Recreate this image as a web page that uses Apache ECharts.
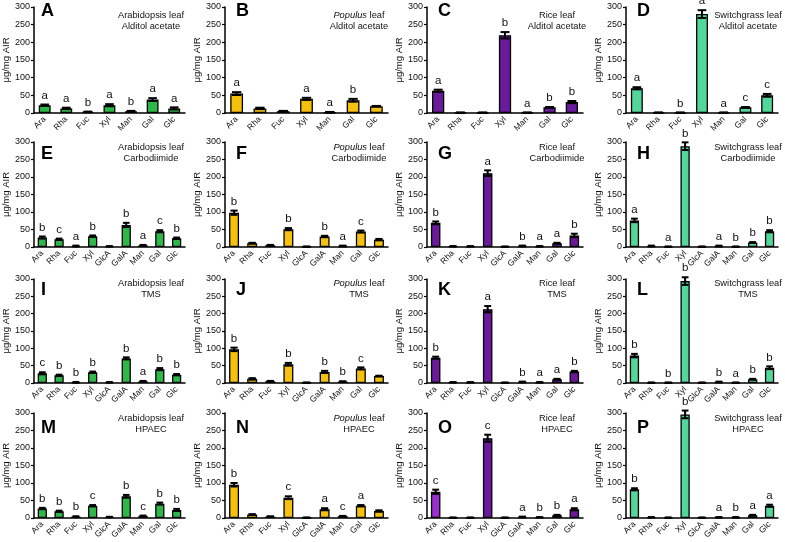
<!DOCTYPE html>
<html><head><meta charset="utf-8">
<script src="https://cdn.jsdelivr.net/npm/echarts@6/dist/echarts.min.js"></script>
<style>html,body{margin:0;padding:0;background:#fff}#c{width:785px;height:542px}</style>
</head><body><div id="c"></div>
<script>
// ---- DATA ----
const cats7 = ['Ara','Rha','Fuc','Xyl','Man','Gal','Glc'];
const cats9 = ['Ara','Rha','Fuc','Xyl','GlcA','GalA','Man','Gal','Glc'];
const yTickMin = 0, yTickMax = 300, yTickStep = 50;
const species = ['Arabidopsis leaf','Populus leaf','Rice leaf','Switchgrass leaf'];
const methods = ['Alditol acetate','Carbodiimide','TMS','HPAEC'];
const panelLetters = ['A','B','C','D','E','F','G','H','I','J','K','L','M','N','O','P'];

// Alditol acetate (7 sugars)
const valA = [22,13,3,22,5,38,13];   const errA = [2,2,1,3,1,4,3];   const sigA = ['a','a','b','a','b','a','a'];
const valB = [55,13,5,40,2,36,19];   const errB = [4,2,1,3,1,4,1];   const sigB = ['a','','','a','a','b',''];
const valC = [63,1,1,220,1,16,31];   const errC = [3,0.5,0.5,9,0.5,1,3]; const sigC = ['a','','','b','a','b','b'];
const valD = [70,1,1,280,1,16,50];   const errD = [3,0.5,0.5,11,0.5,1,4]; const sigD = ['a','','b','a','a','c','c'];
// Carbodiimide (9 sugars)
const valE = [27,22,3,31,2,63,5,45,25]; const errE = [3,2,1,2,0.5,6,1,3,2]; const sigE = ['b','c','a','b','','b','a','c','b'];
const valF = [98,11,5,51,1,30,3,44,21]; const errF = [6,1,1,3,0.5,2,1,3,2]; const sigF = ['b','','','b','','b','a','c',''];
const valG = [69,2,2,211,1,3,2,11,33];  const errG = [4,0.5,0.5,8,0.5,1,0.5,1,5]; const sigG = ['b','','','a','','b','a','a','b'];
const valH = [76,3,1,288,1,3,1,13,45];  const errH = [5,1,0.5,11,0.5,1,0.5,1,3]; const sigH = ['a','','a','b','','a','b','b','b'];
// TMS (9 sugars)
const valI = [28,22,2,31,2,71,5,40,24]; const errI = [3,2,1,2,0.5,3,1,3,2]; const sigI = ['c','b','b','b','','b','a','b','b'];
const valJ = [97,12,5,54,1,32,4,42,20]; const errJ = [5,2,1,4,0.5,3,1,3,1]; const sigJ = ['b','','','b','','b','b','c',''];
const valK = [73,2,2,213,1,3,2,11,33];  const errK = [3,0.5,0.5,9,0.5,1,0.5,1,2]; const sigK = ['b','','','a','','b','a','a','b'];
const valL = [79,1,1,294,1,3,1,11,44];  const errL = [5,0.5,0.5,11,0.5,1,0.5,1,4]; const sigL = ['b','','b','b','','b','a','b','b'];
// HPAEC (9 sugars)
const valM = [27,19,4,35,3,62,6,41,23]; const errM = [2,2,1,2,0.5,4,1,3,3]; const sigM = ['b','b','b','c','','b','c','b','b'];
const valN = [95,10,4,58,1,25,5,35,20]; const errN = [5,1,1,4,0.5,3,1,2,2]; const sigN = ['b','','','c','','a','c','a',''];
const valO = [75,1,1,228,1,3,2,8,25];   const errO = [6,0.5,0.5,10,0.5,1,0.5,1,3]; const sigO = ['c','','','c','','a','b','b','a'];
const valP = [82,2,1,296,1,2,2,8,35];   const errP = [3,0.5,0.5,11,0.5,0.5,0.5,1,3]; const sigP = ['b','','','b','','a','b','a','a'];

const panelVals = [valA,valB,valC,valD,valE,valF,valG,valH,valI,valJ,valK,valL,valM,valN,valO,valP];
const panelErrs = [errA,errB,errC,errD,errE,errF,errG,errH,errI,errJ,errK,errL,errM,errN,errO,errP];
const panelSigs = [sigA,sigB,sigC,sigD,sigE,sigF,sigG,sigH,sigI,sigJ,sigK,sigL,sigM,sigN,sigO,sigP];

// ---- STYLE / LAYOUT ----
const speciesColor = ['#2fb84a','#f6c10c','#6a1a9a','#52d69a'];
const highlightColor = '#9a2fd0'; // panel O, Ara bar
const colLeft = [30,225,427,626], colRight = [185,388,583,778];
const rowTop = [7,142,279,413], rowBottom = [113,247,383,518];
const FONT = 'Liberation Sans, Arial, Helvetica, sans-serif';

const grids=[], xAxes=[], yAxes=[], series=[], titles=[], graphics=[];
for (let p=0;p<16;p++){
  const r=Math.floor(p/4), c=p%4;
  const cats = r===0?cats7:cats9;
  grids.push({left:colLeft[c], top:rowTop[r], width:colRight[c]-colLeft[c], height:rowBottom[r]-rowTop[r], containLabel:false});
  xAxes.push({type:'category', gridIndex:p, data:cats,
    axisLine:{lineStyle:{color:'#000',width:1.5}},
    axisTick:{show:false},
    axisLabel:{rotate:45,fontSize:8.5,color:'#111',margin:5,fontFamily:FONT,interval:0}});
  yAxes.push({type:'value', gridIndex:p, min:yTickMin, max:yTickMax, interval:yTickStep,
    name:'μg/mg AIR', nameLocation:'middle', nameGap:22,
    nameTextStyle:{fontSize:9.5,color:'#111',fontFamily:FONT},
    splitLine:{show:false},
    axisLine:{show:true,lineStyle:{color:'#000',width:1.5}},
    axisTick:{show:true,length:3,lineStyle:{color:'#000',width:1.2}},
    axisLabel:{fontSize:9,color:'#111',margin:4,fontFamily:FONT}});
  const vals=panelVals[p];
  series.push({type:'bar', xAxisIndex:p, yAxisIndex:p, barWidth:'55%',
    data: vals.map((v,i)=> (p===14 && i===0) ? {value:v,itemStyle:{color:highlightColor}} : v),
    itemStyle:{color:speciesColor[c], borderColor:'#000', borderWidth:1.3},
    animation:false});
  const errs=panelErrs[p], sigs=panelSigs[p];
  series.push({type:'custom', xAxisIndex:p, yAxisIndex:p, z:5, animation:false,
    data: vals.map((v,i)=>[i,v,errs[i]]),
    renderItem:function(params,api){
      const i=api.value(0), v=api.value(1), e=api.value(2);
      const sig=sigs[i];
      const top=api.coord([i,v+e]), bot=api.coord([i,Math.max(0,v-e)]);
      const bw=api.size([1,0])[0]*0.4;
      const st={stroke:'#000',lineWidth:2};
      const ch=[
        {type:'line',shape:{x1:top[0],y1:top[1],x2:bot[0],y2:bot[1]},style:st},
        {type:'line',shape:{x1:top[0]-bw/2,y1:top[1],x2:top[0]+bw/2,y2:top[1]},style:st},
        {type:'line',shape:{x1:bot[0]-bw/2,y1:bot[1],x2:bot[0]+bw/2,y2:bot[1]},style:st}
      ];
      if(sig){
        ch.push({type:'text',style:{text:sig,x:top[0],y:top[1]-3,textAlign:'center',textVerticalAlign:'bottom',fontSize:11.5,fill:'#111',fontFamily:FONT}});
      }
      return {type:'group',children:ch};
    }});
  const letterTop=[2,145,281,419][r];
  titles.push({text:panelLetters[p], left:colLeft[c]+11, top:letterTop, padding:0,
    textStyle:{fontSize:18,fontWeight:'bold',color:'#000',fontFamily:FONT}});
  const descCenter=[151,359,557,748][c];
  const descY=[15,147,283,418][r];
  const line1 = c===1 ? '{i|Populus} leaf' : species[c];
  graphics.push({type:'text', x:descCenter, y:descY, z:10, style:{text:line1, textAlign:'center', textVerticalAlign:'middle',
    fontSize:9.3, fill:'#111', fontFamily:FONT, rich:{i:{fontStyle:'italic',fontSize:9.3,fill:'#111',fontFamily:FONT}}}});
  graphics.push({type:'text', x:descCenter, y:descY+11.5, z:10, style:{text:methods[r], textAlign:'center', textVerticalAlign:'middle',
    fontSize:9.3, fill:'#111', fontFamily:FONT}});
}

const chart=echarts.init(document.getElementById('c'),null,{renderer:'canvas'});
chart.setOption({backgroundColor:'#fff',animation:false,title:titles,grid:grids,xAxis:xAxes,yAxis:yAxes,series:series,graphic:graphics});
</script>
</body></html>
